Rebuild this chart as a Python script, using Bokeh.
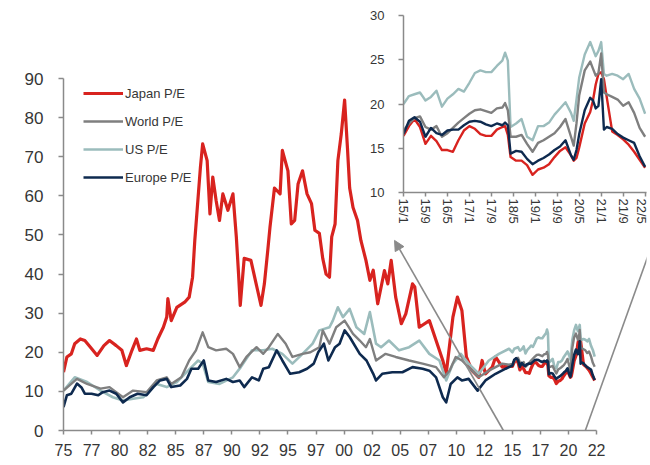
import numpy as np
from bokeh.plotting import figure
from bokeh.models import Range1d, FixedTicker, Legend, LegendItem, Arrow, NormalHead
from bokeh.layouts import column
from bokeh.embed import file_html
from bokeh.resources import INLINE

# ---------------- main chart data (fractional years, 1975-2014) ----------------
jp_year = [1975.0, 1975.3, 1975.7, 1976.0, 1976.5, 1976.9, 1977.4, 1978.0, 1978.6, 1979.1,
           1979.7, 1980.2, 1980.6, 1981.1, 1981.5, 1981.8, 1982.4, 1983.0, 1983.4, 1983.9,
           1984.2, 1984.3, 1984.6, 1985.1, 1985.8, 1986.2, 1986.5, 1986.7, 1987.2, 1987.4,
           1987.8, 1988.05, 1988.3, 1988.6, 1988.9, 1989.2, 1989.65, 1990.1, 1990.4, 1990.6,
           1990.75, 1991.1, 1991.7, 1992.3, 1992.6, 1992.9, 1993.2, 1993.4, 1993.8, 1994.3,
           1994.5, 1995.0, 1995.3, 1995.6, 1995.9, 1996.3, 1996.7, 1997.1, 1997.4, 1997.8,
           1998.1, 1998.4, 1998.7, 1998.9, 1999.2, 1999.45, 1999.75, 2000.05, 2000.3, 2000.5,
           2000.8, 2001.2, 2001.5, 2001.95, 2002.3, 2002.6, 2003.0, 2003.6, 2003.9, 2004.2,
           2004.6, 2005.1, 2005.5, 2006.1, 2006.3, 2006.7, 2007.6, 2008.2, 2008.8, 2009.1,
           2009.7, 2010.1, 2010.5, 2010.9, 2011.4, 2012.0, 2012.3, 2012.6, 2013.2, 2013.5,
           2014.1, 2014.7]
jp_pe = [14.9, 18.8, 19.6, 22.2, 23.4, 23.0, 21.3, 19.2, 21.7, 23.0,
         21.7, 20.5, 16.6, 20.5, 23.4, 20.5, 20.9, 20.5, 23.4, 26.4,
         29.0, 33.7, 28.1, 31.5, 32.8, 34.1, 39.2, 48.6, 67.3, 73.3,
         69.0, 55.4, 64.8, 58.8, 53.7, 60.5, 56.3, 60.5, 49.5, 40.0,
         32.0, 44.0, 43.5, 35.8, 32.0, 37.5, 46.0, 52.0, 62.0, 60.5,
         71.6, 66.4, 52.8, 53.7, 63.0, 66.4, 60.5, 58.0, 51.2, 50.4,
         44.0, 40.0, 39.2, 49.5, 52.8, 69.0, 75.8, 84.5, 72.4, 62.0,
         57.0, 53.7, 48.6, 43.5, 38.4, 41.0, 32.4, 40.9, 37.5, 43.5,
         34.1, 27.3, 29.8, 37.5, 36.7, 26.4, 28.1, 23.0, 17.9, 14.5,
         29.0, 34.1, 30.7, 18.8, 15.3, 13.6, 17.9, 14.5, 16.2, 18.8,
         16.2, 16.6]

world_year = [1975.0, 1976.2, 1977.1, 1978.3, 1979.1, 1980.3, 1981.2, 1982.4, 1983.3, 1984.2,
              1984.6, 1985.5, 1986.2, 1986.8, 1987.4, 1987.9, 1988.6, 1989.5, 1990.1, 1990.7,
              1991.3, 1992.2, 1992.8, 1993.3, 1994.1, 1994.8, 1995.4, 1996.3, 1997.0, 1997.8,
              1998.1, 1998.7, 1999.3, 2000.05, 2000.8, 2001.4, 2001.95, 2002.3, 2002.85, 2003.7,
              2004.6, 2005.8, 2007.0, 2008.2, 2008.9, 2009.4, 2009.95, 2010.5, 2011.4, 2012.0,
              2012.9, 2014.1, 2014.7]
world_pe = [10.2, 13.2, 11.9, 10.7, 11.1, 8.5, 10.2, 9.8, 12.8, 13.6,
            11.9, 13.6, 17.9, 20.5, 25.1, 21.3, 20.5, 20.9, 19.6, 16.2,
            18.8, 21.3, 19.6, 21.3, 24.7, 22.2, 18.8, 19.6, 20.0, 21.3,
            25.6, 22.2, 26.4, 28.1, 24.7, 23.0, 21.3, 23.4, 17.9, 19.6,
            18.8, 17.9, 17.1, 16.2, 13.6, 15.3, 18.8, 17.9, 15.3, 13.6,
            15.3, 17.1, 16.8]

us_year = [1975.0, 1976.0, 1977.1, 1978.3, 1979.4, 1980.3, 1981.2, 1982.1, 1983.3, 1984.2,
           1985.1, 1986.1, 1987.0, 1987.4, 1987.9, 1988.9, 1990.1, 1990.8, 1991.8, 1992.8,
           1993.6, 1994.5, 1995.4, 1996.3, 1997.2, 1997.8, 1998.7, 1999.0, 1999.45, 1999.9,
           2000.5, 2001.1, 2001.8, 2002.3, 2002.85, 2003.3, 2004.0, 2004.9, 2005.8, 2006.7,
           2007.6, 2008.5, 2009.1, 2009.7, 2010.4, 2011.1, 2012.0, 2012.9, 2013.8, 2014.7]
us_pe = [10.2, 13.6, 12.4, 10.2, 8.5, 7.7, 8.1, 8.5, 11.9, 11.1,
         12.4, 15.3, 17.9, 17.1, 12.4, 11.9, 13.6, 16.2, 20.5, 20.5,
         20.9, 19.6, 17.1, 19.6, 22.2, 25.6, 26.4, 28.1, 31.5, 29.0,
         31.1, 26.4, 24.7, 30.3, 22.2, 21.3, 23.0, 20.5, 21.3, 23.0,
         19.6, 17.9, 12.8, 17.1, 19.6, 17.1, 14.5, 17.9, 19.6, 20.9]

eu_year = [1975.0, 1975.3, 1975.7, 1976.2, 1976.6, 1976.9, 1977.5, 1978.1, 1978.5, 1979.1,
           1979.7, 1980.3, 1980.9, 1981.6, 1982.4, 1983.0, 1983.6, 1984.2, 1984.6, 1985.4,
           1986.0, 1986.4, 1987.0, 1987.5, 1987.9, 1988.6, 1989.5, 1990.1, 1990.7, 1991.1,
           1991.8, 1992.4, 1992.8, 1993.3, 1994.0, 1994.5, 1995.2, 1996.0, 1996.7, 1997.3,
           1997.7, 1998.2, 1998.6, 1999.2, 1999.6, 2000.05, 2000.5, 2001.4, 2002.0, 2002.6,
           2002.85, 2003.4, 2004.3, 2005.2, 2006.1, 2007.0, 2007.6, 2008.2, 2008.8, 2009.1,
           2009.5, 2010.1, 2010.5, 2011.1, 2011.9, 2012.6, 2013.5, 2014.4]
eu_pe = [6.0, 9.0, 9.4, 12.0, 11.0, 9.4, 9.4, 9.0, 9.8, 10.2,
         9.4, 7.2, 8.5, 9.4, 9.0, 11.1, 12.8, 13.2, 11.1, 11.5,
         13.2, 15.8, 15.8, 17.9, 12.8, 12.4, 13.2, 12.4, 12.8, 11.1,
         13.6, 12.8, 15.8, 16.2, 20.5, 17.9, 14.5, 14.9, 15.8, 17.1,
         20.0, 22.2, 17.9, 21.3, 22.2, 25.6, 23.9, 19.6, 17.9, 14.5,
         12.8, 14.5, 14.9, 14.9, 16.2, 15.8, 15.3, 13.6, 8.5, 7.2,
         11.9, 13.6, 12.8, 13.2, 10.2, 12.8, 14.5, 15.8]

# ---------------- inset data (months since Jan 2015) ----------------
in_month = [0, 2, 4, 6, 8, 10, 12, 14, 16, 18, 20, 22, 24, 26, 28, 30, 32, 34, 36,
            37, 38, 39, 41, 43, 45, 47, 49, 51, 53, 55, 57, 59, 61, 62, 63, 64,
            66, 68, 69, 70, 71, 72, 73, 74, 76, 78, 80, 82, 84, 86, 88]
jp_in = [16.4, 17.5, 18.3, 17.4, 15.5, 16.4, 15.8, 14.8, 14.8, 14.6, 15.9, 17.0, 17.5, 17.2, 16.6, 16.4, 16.4, 17.1, 17.4,
         17.5, 16.5, 14.0, 13.6, 13.6, 13.1, 12.0, 12.6, 12.8, 13.2, 14.0, 14.7, 15.1, 14.2, 13.6, 13.9, 15.1,
         17.8, 19.1, 20.4, 22.2, 23.4, 23.6, 22.8, 20.8, 16.9, 16.5, 16.0, 15.4, 14.6, 13.7, 12.8]
world_in = [17.0, 17.8, 18.4, 18.6, 17.4, 17.1, 17.5, 16.3, 16.7, 17.3, 17.9, 18.4, 18.9, 19.3, 19.4, 19.2, 19.0, 19.5, 19.6,
            20.1, 19.3, 16.3, 16.3, 16.5, 15.5, 14.6, 15.6, 15.9, 16.3, 16.7, 17.4, 18.3, 16.3, 15.3, 17.8, 21.0,
            23.8, 24.8, 24.0, 23.2, 23.5, 25.7, 21.3, 21.1, 20.8, 20.5, 19.8, 20.2, 19.0, 17.3, 16.3]
us_in = [20.0, 20.9, 21.1, 21.3, 20.4, 20.8, 21.5, 19.7, 20.6, 21.1, 21.7, 21.4, 22.4, 23.5, 23.8, 23.6, 23.6, 24.3, 24.9,
         25.8, 24.9, 17.4, 17.8, 18.3, 16.3, 15.9, 17.5, 17.5, 17.9, 18.8, 19.5, 20.2, 19.0, 18.1, 20.5, 23.0,
         25.6, 27.0, 26.2, 25.4, 26.0, 27.0, 23.4, 23.2, 23.4, 23.2, 22.8, 23.4, 21.7, 20.6, 18.9]
eu_in = [16.6, 18.1, 18.5, 18.0, 16.3, 17.3, 16.7, 16.5, 17.0, 17.1, 17.1, 17.6, 18.0, 18.1, 18.0, 17.7, 17.5, 17.8, 17.6,
         17.9, 17.6, 14.4, 14.7, 14.6, 13.8, 13.2, 13.6, 13.9, 14.3, 14.8, 15.2, 15.9, 14.2, 13.7, 14.8, 16.6,
         19.3, 20.7, 20.4, 19.5, 19.8, 22.8, 17.1, 17.4, 17.2, 16.6, 16.2, 15.9, 15.6, 14.1, 12.9]

main_tick_labels = ["75", "77", "80", "82", "85", "87", "90", "92", "95", "97",
                    "00", "02", "05", "07", "10", "12", "15", "17", "20", "22"]
inset_tick_labels = ["15/1", "15/9", "16/5", "17/1", "17/9", "18/5",
                     "19/1", "19/9", "20/5", "21/1", "21/9", "22/5"]

series_names = ["Japan P/E", "World P/E", "US P/E", "Europe P/E"]
colors = {"jp": "#d8231f", "world": "#7f7f7f", "us": "#9bbcbc", "eu": "#0e2a4f"}

# zoom window markers (years / levels)
zoom_start_year, zoom_end_year = 2014.2, 2021.5
arrow_tip = (2004.5, 48.6)
right_line_end = (2027.5, 48.0)

FONT = "Liberation Sans"
TXT = "#363636"
AXC = "#8a8a8a"

# full series = long history + inset months
in_year = 2015 + np.array(in_month) / 12.0
full = {
    "jp": (np.r_[jp_year, in_year], np.r_[jp_pe, jp_in]),
    "world": (np.r_[world_year, in_year], np.r_[world_pe, world_in]),
    "us": (np.r_[us_year, in_year], np.r_[us_pe, us_in]),
    "eu": (np.r_[eu_year, in_year], np.r_[eu_pe, eu_in]),
}

W, H = 648, 463

# ---------------- main figure ----------------
p1 = figure(width=W, height=H, output_backend="svg", toolbar_location=None,
            x_range=Range1d(1975, 2026.95), y_range=Range1d(0, 90),
            min_border_left=63, min_border_right=0, min_border_top=78, min_border_bottom=H - 430)
p1.title = None
p1.background_fill_alpha = 0
p1.border_fill_alpha = 0
p1.outline_line_color = None
p1.xgrid.visible = False
p1.ygrid.visible = False

widths = {"jp": 3.2, "world": 2.4, "us": 2.6, "eu": 2.6}
rends = {}
for key in ["jp", "us", "world", "eu"]:
    xs, ys = full[key]
    rends[key] = p1.line(xs, ys, line_color=colors[key], line_width=widths[key], line_join="round")

xt = [1975 + 2.5 * i for i in range(len(main_tick_labels))]
p1.xaxis.ticker = FixedTicker(ticks=xt)
p1.xaxis.major_label_overrides = {t: l for t, l in zip(xt, main_tick_labels)}
p1.xaxis.bounds = (xt[0], xt[-1])
p1.yaxis.ticker = FixedTicker(ticks=list(range(0, 91, 10)))
p1.yaxis.bounds = (0, 90)
for ax in (p1.xaxis[0], p1.yaxis[0]):
    ax.axis_line_color = AXC
    ax.axis_line_width = 1.5
    ax.major_tick_line_color = AXC
    ax.major_tick_line_width = 1.5
    ax.major_tick_in = 0
    ax.minor_tick_line_color = None
    ax.major_label_text_font = FONT
    ax.major_label_text_color = TXT
p1.xaxis.major_tick_out = 4
p1.xaxis.major_label_standoff = 9
p1.xaxis.major_label_text_font_size = "16px"
p1.yaxis.major_tick_out = 5
p1.yaxis.major_label_standoff = 15
p1.yaxis.major_label_text_font_size = "17px"

legend = Legend(items=[LegendItem(label=series_names[0], renderers=[rends["jp"]]),
                       LegendItem(label=series_names[1], renderers=[rends["world"]]),
                       LegendItem(label=series_names[2], renderers=[rends["us"]]),
                       LegendItem(label=series_names[3], renderers=[rends["eu"]])],
                location=(20, 243), padding=0, margin=0, spacing=8,
                glyph_width=40, glyph_height=20, label_height=20, label_standoff=2,
                label_text_font=FONT, label_text_font_size="13px", label_text_color=TXT,
                background_fill_alpha=0, border_line_color=None)
p1.add_layout(legend)

p1.add_layout(Arrow(end=NormalHead(size=10, fill_color=AXC, line_color=AXC),
                    x_start=zoom_start_year, y_start=0, x_end=arrow_tip[0], y_end=arrow_tip[1],
                    line_color=AXC, line_width=1.6))
p1.add_layout(Arrow(end=None, x_start=zoom_end_year, y_start=0,
                    x_end=right_line_end[0], y_end=right_line_end[1],
                    line_color=AXC, line_width=1.6))

# ---------------- inset figure ----------------
IW, IH = W - 340, 227
p2 = figure(width=IW, height=IH, output_backend="svg", toolbar_location=None,
            x_range=Range1d(0, 88.5), y_range=Range1d(10, 30),
            min_border_left=52, min_border_right=2, min_border_top=15, min_border_bottom=35)
p2.title = None
p2.background_fill_alpha = 0
p2.border_fill_alpha = 0
p2.outline_line_color = None
p2.xgrid.visible = False
p2.ygrid.visible = False
for key, arr in [("jp", jp_in), ("us", us_in), ("world", world_in), ("eu", eu_in)]:
    p2.line(in_month, arr, line_color=colors[key], line_width=2.4, line_join="round")

it = [8 * i for i in range(len(inset_tick_labels))]
p2.xaxis.ticker = FixedTicker(ticks=it)
p2.xaxis.major_label_overrides = {t: l for t, l in zip(it, inset_tick_labels)}
p2.xaxis.major_label_orientation = "vertical"
p2.yaxis.ticker = FixedTicker(ticks=[10, 15, 20, 25, 30])
for ax in (p2.xaxis[0], p2.yaxis[0]):
    ax.axis_line_color = AXC
    ax.axis_line_width = 1.5
    ax.major_tick_line_color = AXC
    ax.major_tick_line_width = 1.5
    ax.major_tick_in = 0
    ax.minor_tick_line_color = None
    ax.major_label_text_font = FONT
    ax.major_label_text_color = TXT
    ax.major_label_text_font_size = "13px"
p2.xaxis.major_tick_out = 4
p2.xaxis.major_label_standoff = 2
p2.yaxis.major_tick_out = 5
p2.yaxis.major_label_standoff = 14

p2.margin = (0, 0, 0, 340)
p1.margin = (-IH, 0, 0, 0)
layout = column(p2, p1)

open("out.html", "w").write(file_html(layout, INLINE))
